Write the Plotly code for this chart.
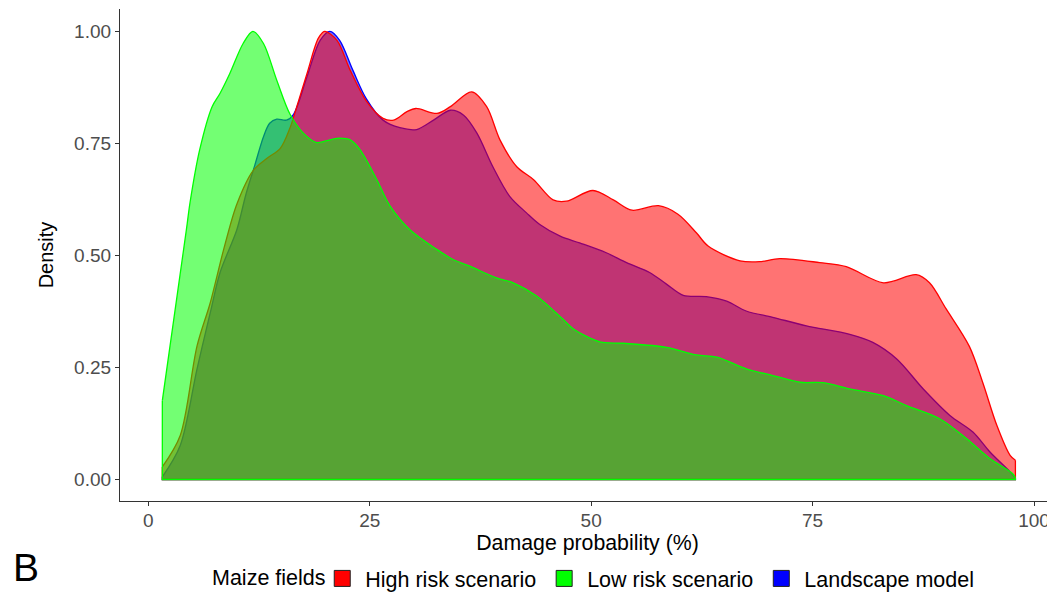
import plotly.graph_objects as go

# ---- data (scaled density, max = 1) ----
high_x = [1.58, 3.6, 5.5, 7.0, 8.5, 10.0, 11.85, 13.4, 14.9, 16.0, 16.5, 17.9, 19.2, 19.9, 21.3, 22.8,
          24.6, 26.5, 27.7, 29.2, 30.2, 32.6, 34.1, 36.5, 38.2, 39.7, 41.6, 43.5, 45.7, 47.2, 50.2,
          52.5, 54.6, 57.6, 59.8, 61.9, 63.2, 66.8, 69.0, 71.3, 75.8, 78.8, 83.0, 86.7, 88.2, 90.1,
          92.7, 94.2, 95.8, 97.3, 97.9]
high_y = [0.028, 0.098, 0.298, 0.395, 0.513, 0.615, 0.690, 0.717, 0.739, 0.785, 0.815, 0.905, 0.985, 1.0,
          0.98, 0.913, 0.845, 0.806, 0.802, 0.821, 0.828, 0.817, 0.832, 0.865, 0.832, 0.758, 0.698, 0.669,
          0.624, 0.621, 0.645, 0.624, 0.601, 0.611, 0.592, 0.55, 0.521, 0.488, 0.486, 0.493, 0.484, 0.475,
          0.439, 0.457, 0.439, 0.38, 0.297, 0.217, 0.121, 0.054, 0.043]

low_x = [1.58, 4.3, 4.7, 5.8, 7.2, 8.1, 9.2, 10.7, 11.8, 13.0, 14.5, 16.0, 17.5, 19.0, 20.5, 21.6, 22.8,
         23.9, 25.8, 27.3, 29.5, 32.6, 34.4, 36.3, 39.3, 41.2, 43.8, 46.8, 48.0, 51.0, 53.6, 58.5, 61.9,
         64.2, 67.5, 70.5, 73.6, 76.2, 79.2, 83.0, 85.6, 89.3, 92.4, 95.0, 97.6, 97.9]
low_y = [0.176, 0.558, 0.617, 0.736, 0.832, 0.862, 0.906, 0.973, 1.0, 0.973, 0.891, 0.815, 0.773, 0.752,
         0.758, 0.762, 0.758, 0.736, 0.669, 0.61, 0.558, 0.513, 0.491, 0.476, 0.450, 0.439, 0.41, 0.358,
         0.336, 0.307, 0.304, 0.295, 0.278, 0.273, 0.247, 0.232, 0.217, 0.216, 0.202, 0.187, 0.165, 0.136,
         0.091, 0.047, 0.013, 0.004]

land_x = [1.58, 3.6, 5.5, 7.0, 8.1, 10.0, 11.0, 12.0, 13.0, 13.7, 14.5, 15.6, 16.4, 17.9, 19.4, 20.5,
          21.6, 23.1, 24.6, 26.5, 28.4, 30.3, 32.2, 34.1, 35.6, 37.1, 38.9, 40.8, 42.7, 44.2, 46.5, 48.7,
          51.7, 54.0, 56.6, 58.5, 60.4, 63.0, 65.3, 67.5, 70.5, 74.3, 79.2, 81.8, 84.5, 87.5, 90.5, 93.1,
          95.0, 97.3, 97.9]
land_y = [0.006, 0.076, 0.247, 0.373, 0.462, 0.558, 0.635, 0.70, 0.765, 0.795, 0.804, 0.802, 0.815, 0.898,
          0.98, 1.0, 0.98, 0.913, 0.85, 0.802, 0.785, 0.781, 0.802, 0.824, 0.813, 0.773, 0.698, 0.632, 0.595,
          0.569, 0.543, 0.528, 0.506, 0.484, 0.462, 0.436, 0.411, 0.408, 0.398, 0.376, 0.362, 0.343, 0.324,
          0.306, 0.269, 0.202, 0.143, 0.106, 0.062, 0.017, 0.003]

x_ticks = [0, 25, 50, 75, 100]
y_ticks = [0.0, 0.25, 0.5, 0.75, 1.0]
y_tick_labels = ["0.00", "0.25", "0.50", "0.75", "1.00"]

series = [
    # drawing order: landscape, high, low (legend order differs)
    ("Landscape model", land_x, land_y, "rgb(0,0,255)", "rgba(0,0,255,0.55)"),
    ("High risk scenario", high_x, high_y, "rgb(255,0,0)", "rgba(255,0,0,0.55)"),
    ("Low risk scenario", low_x, low_y, "rgb(0,255,0)", "rgba(0,255,0,0.55)"),
]
legend_order = ["High risk scenario", "Low risk scenario", "Landscape model"]

FONT = "Liberation Sans, Arial, sans-serif"
fig = go.Figure()
for name, xs, ys, lc, fc in series:
    fig.add_trace(go.Scatter(x=xs, y=ys, mode="lines", line=dict(color=lc, width=1.3, shape="spline", smoothing=0.9),
                             fill="tozeroy", fillcolor=fc, showlegend=False, hoverinfo="skip"))
    # closing outline of the density polygon (right edge, baseline, left edge)
    fig.add_trace(go.Scatter(x=[xs[-1], xs[-1], xs[0], xs[0]], y=[ys[-1], 0, 0, ys[0]], mode="lines",
                             line=dict(color=lc, width=1.3), showlegend=False, hoverinfo="skip"))

colors = {n: lc for n, _, _, lc, _ in series}
for i, n in enumerate(legend_order):
    fig.add_trace(go.Scatter(x=[None], y=[None], mode="markers", name=n, legendrank=i + 1,
                             marker=dict(symbol="square", size=16, color=colors[n],
                                         line=dict(color="#222", width=1))))

axis_common = dict(showgrid=False, zeroline=False, showline=True, linecolor="#333", linewidth=1.3,
                   ticks="outside", ticklen=4, tickwidth=1.3, tickcolor="#333", automargin=False,
                   tickfont=dict(family=FONT, size=19, color="#4D4D4D"))
fig.update_xaxes(range=[-3.2, 102.37], tickvals=x_ticks, ticktext=[str(t) for t in x_ticks],
                 ticklabelstandoff=-2,
                 title=dict(text="Damage probability (%)", font=dict(family=FONT, size=21.3, color="black"), standoff=2),
                 **axis_common)
fig.update_yaxes(range=[-0.048, 1.05], tickvals=y_ticks, ticktext=y_tick_labels,
                 title=dict(text="Density", font=dict(family=FONT, size=20, color="black"), standoff=15),
                 **axis_common)

# panel letter
fig.add_annotation(text="B", xref="paper", yref="paper", x=-0.1165, y=-0.1825, xanchor="left", yanchor="bottom",
                   showarrow=False, font=dict(family=FONT, size=39, color="black"))
# legend title
fig.add_annotation(text="Maize fields", xref="paper", yref="paper", x=0.2225, y=-0.1574, xanchor="right",
                   yanchor="middle", showarrow=False, font=dict(family=FONT, size=21.5, color="black"))

# page body has an 8px margin: figure is sized/placed so the plot lands where the reference has it
fig.update_layout(
    width=1047, height=585,
    margin=dict(l=112, r=0, t=1, b=91.5, autoexpand=False),
    paper_bgcolor="white", plot_bgcolor="white",
    legend=dict(orientation="h", x=0.2131, xanchor="left", y=-0.1574, yanchor="middle", itemwidth=36,
                font=dict(family=FONT, size=21.5, color="black"), traceorder="normal"),
    showlegend=True,
)

fig.write_html("out.html")
